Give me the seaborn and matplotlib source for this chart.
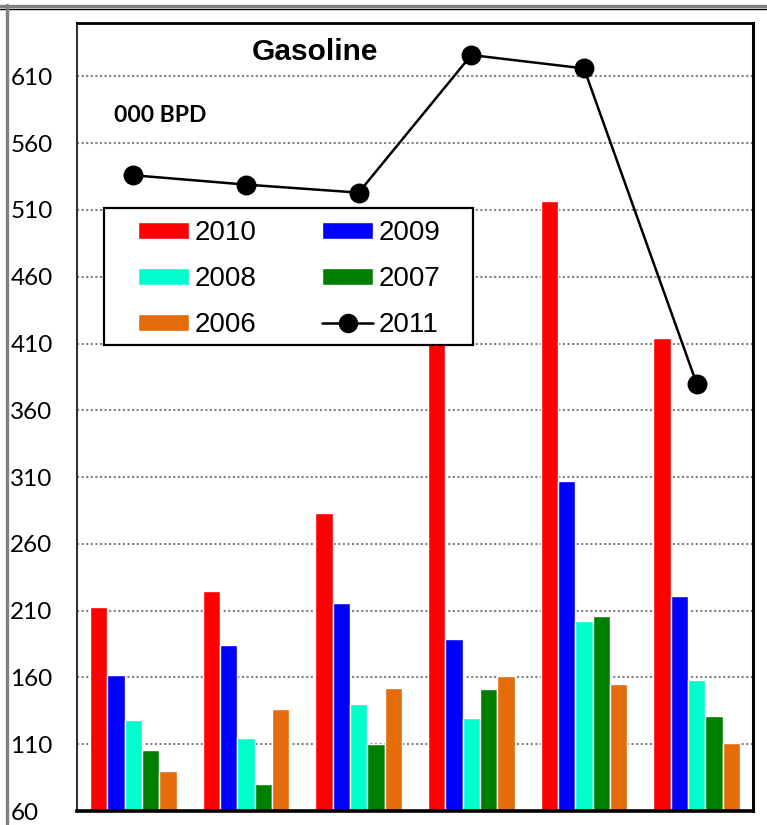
import numpy as np
import pandas as pd
import seaborn as sns
import matplotlib.pyplot as plt
from matplotlib.lines import Line2D
from matplotlib.patches import Patch, Rectangle

# data (000 BPD)
categories = ['C1', 'C2', 'C3', 'C4', 'C5', 'C6']
years = ['2010', '2009', '2008', '2007', '2006']
v2010 = [213, 225, 283, 440, 517, 414]
v2009 = [162, 184, 216, 189, 307, 221]
v2008 = [128, 115, 140, 130, 202, 158]
v2007 = [106, 80, 110, 151, 206, 131]
v2006 = [90, 136, 152, 161, 155, 111]
v2011 = [536, 529, 523, 626, 616, 380]
bar_colors = ['#FF0000', '#0000FF', '#00FFCC', '#008000', '#E46C0A']
yticks = list(range(60, 611, 50))

df = pd.DataFrame({
    'category': categories * len(years),
    'year': np.repeat(years, len(categories)),
    'value': v2010 + v2009 + v2008 + v2007 + v2006,
})

sns.set_style('white')
plt.rcParams['font.family'] = ['Liberation Sans', 'DejaVu Sans']
plt.rcParams['text.color'] = 'black'
plt.rcParams['ytick.labelcolor'] = 'black'

W, H = 767, 825
fig = plt.figure(figsize=(W / 100, H / 100), dpi=100)
ax = fig.add_axes([77 / W, 1 - 811 / H, (753 - 77) / W, (811 - 23) / H])

sns.barplot(data=df, x='category', y='value', hue='year', hue_order=years,
            order=categories, palette=bar_colors, saturation=1, width=0.77,
            errorbar=None, legend=False, ax=ax, zorder=2)
sns.pointplot(x=categories, y=v2011, order=categories, color='black',
              markersize=13, linewidth=1.8, errorbar=None, ax=ax, zorder=3)

ax.set_ylim(60, 650)
ax.set_yticks(yticks)
ax.set_xlabel('')
ax.set_ylabel('')
ax.set_xticklabels([])
ax.tick_params(axis='x', length=0)
ax.tick_params(axis='y', length=0, pad=48, labelsize=17.5, labelcolor='black')
for lab in ax.get_yticklabels():
    lab.set_horizontalalignment('left')
    lab.set_fontfamily('Lato')

ax.yaxis.grid(True, color='#808080', linestyle=(0, (1, 1.2)), linewidth=1.5)
ax.set_axisbelow(True)
for side in ['top', 'right', 'bottom']:
    ax.spines[side].set_color('black')
ax.spines['top'].set_linewidth(2)
ax.spines['right'].set_linewidth(2.2)
ax.spines['bottom'].set_linewidth(2.6)
ax.spines['left'].set_color('#333333')
ax.spines['left'].set_linestyle((0, (1, 1)))
ax.spines['left'].set_linewidth(1.5)

# legend with a separate frame box
frame = Rectangle((104 / W, 1 - 345 / H), (473 - 104) / W, (345 - 208) / H,
                  transform=fig.transFigure, facecolor='white',
                  edgecolor='black', linewidth=1.6, zorder=4, clip_on=False)
ax.add_patch(frame)
patches = {y: Patch(facecolor=c) for y, c in zip(years, bar_colors)}
line_handle = Line2D([], [], color='black', marker='o', markersize=13, linewidth=1.8)
handles = [patches['2010'], patches['2008'], patches['2006'],
           patches['2009'], patches['2007'], line_handle]
labels = ['2010', '2008', '2006', '2009', '2007', '2011']
leg = ax.legend(handles=handles, labels=labels, ncol=2, loc='upper left',
                bbox_to_anchor=(138 / W, 1 - 220 / H), bbox_transform=fig.transFigure,
                frameon=False, fontsize=20, handlelength=1.85, handleheight=0.55,
                handletextpad=0.2, labelspacing=0.72, columnspacing=2.35,
                borderpad=0, borderaxespad=0, labelcolor='black')
leg.set_zorder(5)

fig.text(315 / W, 1 - 52 / H, 'Gasoline', ha='center', va='center',
         fontsize=21.5, fontweight='bold', color='black')
fig.text(114 / W, 1 - 116 / H, '000 BPD', ha='left', va='center',
         fontsize=16.5, fontweight='bold', family='Lato', color='black')

# outer chart border (cropped)
fig.add_artist(Line2D([0, 1], [1 - 5.5 / H] * 2, transform=fig.transFigure,
                      color='#808080', linewidth=2.4))
fig.add_artist(Line2D([0, 1], [1 - 9 / H] * 2, transform=fig.transFigure,
                      color='black', linewidth=1))
fig.add_artist(Line2D([6.5 / W] * 2, [0, 1 - 5 / H], transform=fig.transFigure,
                      color='#808080', linewidth=2.4))

fig.savefig('out.png', dpi=100)
